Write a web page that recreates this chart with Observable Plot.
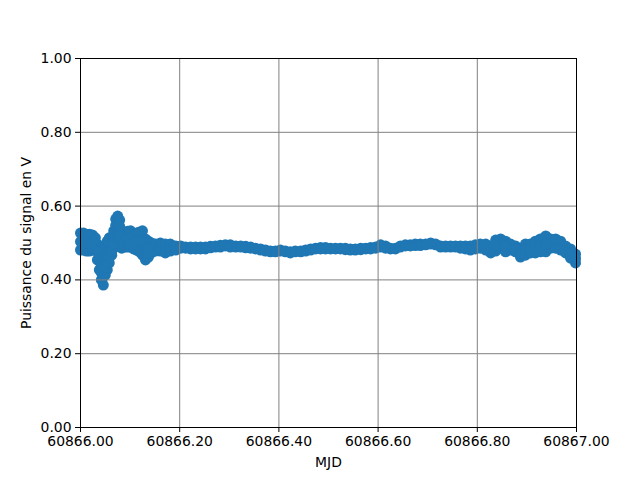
<!DOCTYPE html>
<html>
<head>
<meta charset="utf-8">
<script src="https://cdn.jsdelivr.net/npm/d3@7"></script>
<script src="https://cdn.jsdelivr.net/npm/@observablehq/plot@0.6"></script>
<style>
  html, body { margin: 0; padding: 0; background: white; }
  svg { display: block; }
</style>
</head>
<body>
<div id="chart"></div>
<script>
// MJD positions of the sampled readings
const mjd = [
  60866.000, 60866.006, 60866.012, 60866.018, 60866.024, 60866.030, 60866.034, 60866.038,
  60866.042, 60866.046, 60866.050, 60866.054, 60866.058, 60866.063, 60866.067, 60866.071,
  60866.075, 60866.079, 60866.083, 60866.089, 60866.095, 60866.101, 60866.107, 60866.113,
  60866.119, 60866.125, 60866.131, 60866.137, 60866.143, 60866.151, 60866.161,
  60866.171, 60866.181, 60866.192, 60866.202, 60866.212, 60866.222, 60866.232, 60866.242,
  60866.252, 60866.262, 60866.272, 60866.282, 60866.292, 60866.302, 60866.313, 60866.323,
  60866.333, 60866.343, 60866.353, 60866.363, 60866.373, 60866.383, 60866.393, 60866.403,
  60866.413, 60866.423, 60866.433, 60866.444, 60866.454, 60866.464, 60866.474, 60866.484,
  60866.494, 60866.504, 60866.514, 60866.524, 60866.534, 60866.544, 60866.554, 60866.565,
  60866.575, 60866.585, 60866.595, 60866.605, 60866.615, 60866.625, 60866.635, 60866.645,
  60866.655, 60866.665, 60866.675, 60866.685, 60866.696, 60866.706, 60866.716, 60866.726,
  60866.736, 60866.746, 60866.756, 60866.766, 60866.776, 60866.786, 60866.796, 60866.806,
  60866.817, 60866.827, 60866.837, 60866.847, 60866.857, 60866.867, 60866.877, 60866.887,
  60866.897, 60866.907, 60866.917, 60866.927, 60866.938, 60866.948, 60866.958, 60866.968,
  60866.978, 60866.988, 60866.998
];
// upper readings of the signal (V)
const upper = [
  0.527, 0.527, 0.524, 0.524, 0.522, 0.514, 0.497, 0.486,
  0.478, 0.476, 0.492, 0.505, 0.514, 0.514, 0.533, 0.565,
  0.573, 0.562, 0.527, 0.530, 0.532, 0.533, 0.524, 0.527,
  0.530, 0.533, 0.511, 0.505, 0.500, 0.497, 0.500,
  0.497, 0.497, 0.492, 0.492, 0.489, 0.489, 0.489, 0.489,
  0.489, 0.491, 0.492, 0.494, 0.495, 0.495, 0.492, 0.492,
  0.491, 0.489, 0.486, 0.484, 0.481, 0.478, 0.478, 0.481,
  0.478, 0.476, 0.478, 0.478, 0.481, 0.484, 0.486, 0.488,
  0.488, 0.486, 0.486, 0.486, 0.486, 0.484, 0.484, 0.486,
  0.486, 0.488, 0.489, 0.495, 0.492, 0.486, 0.486, 0.492,
  0.495, 0.495, 0.497, 0.497, 0.497, 0.500, 0.497, 0.492,
  0.492, 0.492, 0.492, 0.492, 0.492, 0.492, 0.495, 0.497,
  0.497, 0.492, 0.508, 0.511, 0.505, 0.497, 0.492, 0.484,
  0.497, 0.497, 0.505, 0.511, 0.519, 0.511, 0.511, 0.505,
  0.492, 0.484, 0.470
];
// lower readings of the signal (V)
const lower = [
  0.481, 0.481, 0.478, 0.478, 0.481, 0.481, 0.454, 0.427,
  0.400, 0.386, 0.413, 0.427, 0.446, 0.467, 0.486, 0.495,
  0.500, 0.495, 0.486, 0.489, 0.489, 0.489, 0.484, 0.481,
  0.476, 0.467, 0.454, 0.462, 0.473, 0.478, 0.478,
  0.473, 0.478, 0.481, 0.486, 0.486, 0.484, 0.484, 0.484,
  0.484, 0.487, 0.489, 0.489, 0.492, 0.489, 0.489, 0.489,
  0.487, 0.486, 0.484, 0.481, 0.478, 0.476, 0.476, 0.478,
  0.476, 0.473, 0.476, 0.476, 0.478, 0.481, 0.484, 0.484,
  0.484, 0.484, 0.484, 0.484, 0.482, 0.481, 0.481, 0.482,
  0.484, 0.484, 0.486, 0.489, 0.486, 0.484, 0.484, 0.489,
  0.492, 0.492, 0.493, 0.493, 0.495, 0.497, 0.495, 0.489,
  0.489, 0.489, 0.489, 0.486, 0.484, 0.481, 0.484, 0.486,
  0.481, 0.473, 0.478, 0.486, 0.476, 0.481, 0.476, 0.462,
  0.467, 0.473, 0.473, 0.476, 0.476, 0.486, 0.486, 0.481,
  0.473, 0.459, 0.446
];
// extra readings inside the wider, noisier stretches
const extraMjd = [
  60866.000, 60866.012, 60866.024, 60866.034, 60866.038,
  60866.042, 60866.042, 60866.042, 60866.046, 60866.046, 60866.046,
  60866.050, 60866.050, 60866.050, 60866.054, 60866.054, 60866.054,
  60866.058, 60866.058, 60866.058, 60866.063, 60866.063, 60866.063,
  60866.067, 60866.067, 60866.067, 60866.071, 60866.071, 60866.071,
  60866.075, 60866.075, 60866.075, 60866.079, 60866.079, 60866.079,
  60866.083, 60866.083, 60866.089, 60866.095, 60866.101,
  60866.107, 60866.113, 60866.119, 60866.125, 60866.131, 60866.137,
  60866.827, 60866.837, 60866.857, 60866.877, 60866.887, 60866.897,
  60866.907, 60866.917, 60866.927, 60866.938, 60866.988, 60866.998
];
const extraV = [
  0.504, 0.501, 0.501, 0.476, 0.457,
  0.439, 0.458, 0.420, 0.431, 0.453, 0.409,
  0.453, 0.472, 0.434, 0.466, 0.485, 0.447,
  0.480, 0.497, 0.462, 0.490, 0.503, 0.478,
  0.510, 0.520, 0.498, 0.530, 0.548, 0.512,
  0.537, 0.555, 0.518, 0.528, 0.545, 0.511,
  0.506, 0.517, 0.510, 0.511, 0.511,
  0.504, 0.504, 0.503, 0.500, 0.482, 0.484,
  0.482, 0.493, 0.491, 0.484, 0.473, 0.482,
  0.485, 0.489, 0.493, 0.497, 0.472, 0.458
];
const xTicks = [60866.0, 60866.2, 60866.4, 60866.6, 60866.8, 60867.0];
const yTicks = [0, 0.2, 0.4, 0.6, 0.8, 1.0];
const xLabel = "MJD";
const yLabel = "Puissance du signal en V";

const points = [
  ...mjd.map((m, i) => ({mjd: m, v: upper[i]})),
  ...mjd.map((m, i) => ({mjd: m, v: lower[i]})),
  ...extraMjd.map((m, i) => ({mjd: m, v: extraV[i]}))
];

const fmt = d3.format(".2f");
const chart = Plot.plot({
  width: 640,
  height: 480,
  marginLeft: 80,
  marginRight: 64,
  marginTop: 58,
  marginBottom: 53,
  style: {fontFamily: "DejaVu Sans", fontSize: "13.9px", background: "white", color: "black"},
  x: {domain: [60866, 60867]},
  y: {domain: [0, 1]},
  marks: [
    Plot.dot(points, {x: "mjd", y: "v", r: 5.5, fill: "#1f77b4", stroke: "none"}),
    Plot.gridX(xTicks, {stroke: "#808080", strokeOpacity: 1, strokeWidth: 1}),
    Plot.gridY(yTicks, {stroke: "#808080", strokeOpacity: 1, strokeWidth: 1}),
    Plot.frame({stroke: "black", strokeWidth: 1}),
    Plot.axisX(xTicks, {tickFormat: fmt, tickSize: 5, tickPadding: 4, label: xLabel,
      labelAnchor: "center", labelArrow: "none", labelOffset: 39, fontSize: 13.9}),
    Plot.axisY(yTicks, {tickFormat: fmt, tickSize: 5, tickPadding: 4, label: yLabel,
      labelAnchor: "center", labelArrow: "none", labelOffset: 59, fontSize: 13.9})
  ]
});
document.getElementById("chart").appendChild(chart);
</script>
</body>
</html>
